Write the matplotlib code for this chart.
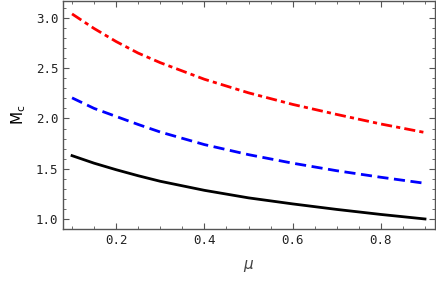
import matplotlib.pyplot as plt
from matplotlib.ticker import MultipleLocator

# values
mu = [0.1, 0.15, 0.2, 0.25, 0.3, 0.4, 0.5, 0.6, 0.7, 0.8, 0.9]
m_black = [1.63, 1.555, 1.49, 1.43, 1.375, 1.285, 1.21, 1.15, 1.095, 1.045, 1.00]
m_blue = [2.205, 2.10, 2.02, 1.94, 1.865, 1.74, 1.64, 1.555, 1.48, 1.415, 1.355]
m_red = [3.04, 2.895, 2.765, 2.65, 2.555, 2.39, 2.255, 2.14, 2.04, 1.945, 1.86]

frame = '#555555'

fig = plt.figure(figsize=(4.36, 2.87), dpi=100)
ax = fig.add_axes([0.145, 0.202, 0.852, 0.795])

ax.plot(mu, m_black, color='black', lw=2)
ax.plot(mu, m_blue, color='blue', lw=2, ls=(0, (4, 2)))
ax.plot(mu, m_red, color='red', lw=2, ls=(0, (4, 1.5, 1.5, 1.5)))

ax.set_xlim(0.08, 0.922)
ax.set_ylim(0.9, 3.17)
ax.xaxis.set_major_locator(MultipleLocator(0.2))
ax.xaxis.set_minor_locator(MultipleLocator(0.05))
ax.yaxis.set_major_locator(MultipleLocator(0.5))
ax.yaxis.set_minor_locator(MultipleLocator(0.1))

for s in ax.spines.values():
    s.set_color(frame)
    s.set_linewidth(1)
ax.tick_params(which='both', direction='in', top=True, right=True, color=frame, labelsize=9)
ax.tick_params(which='major', length=4)
ax.tick_params(which='minor', length=2)
for lab in ax.get_xticklabels() + ax.get_yticklabels():
    lab.set_family('DejaVu Sans Mono')
    lab.set_color('#222222')

ax.set_xlabel(r'$\mu$', fontsize=11, color='#444444', labelpad=8)
ax.set_ylabel(r'$\mathrm{M_c}$', fontsize=11, labelpad=6)

fig.savefig('out.png', dpi=100)
